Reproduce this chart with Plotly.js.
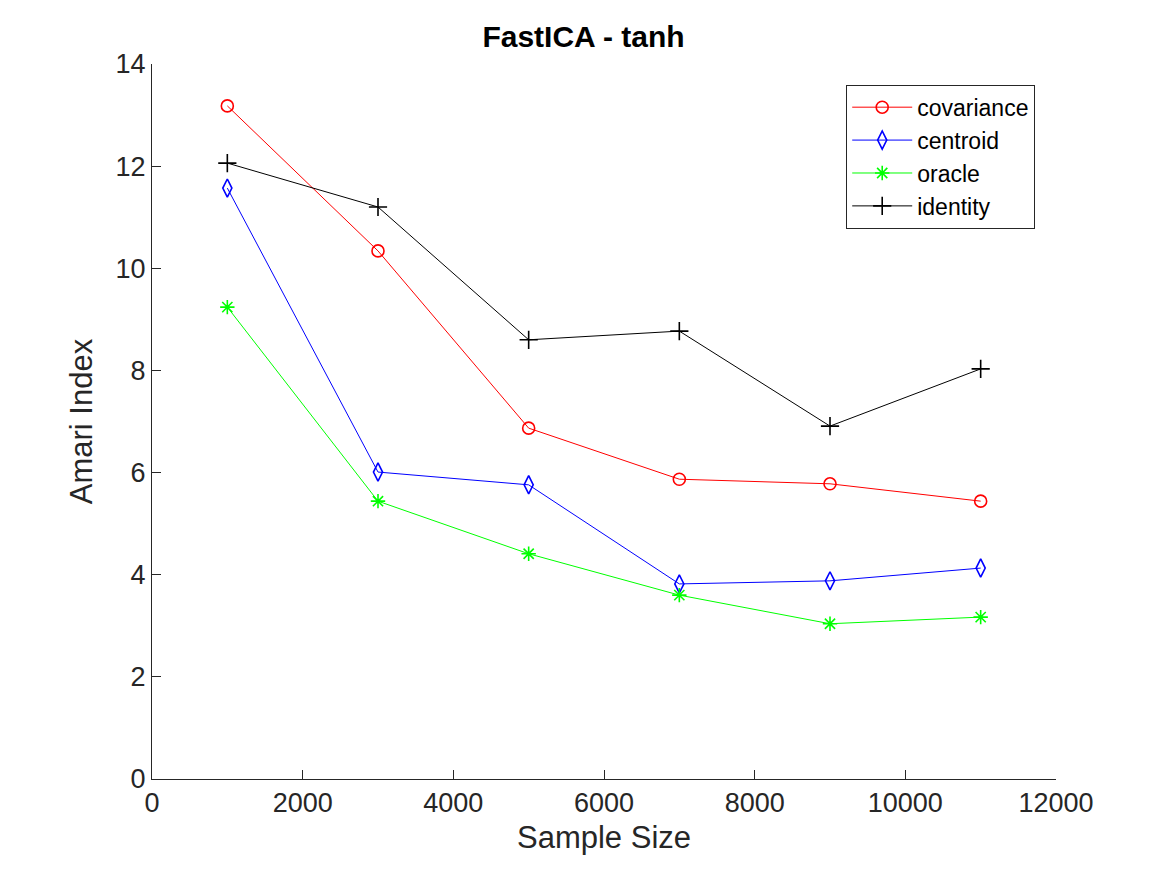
<!DOCTYPE html>
<html>
<head>
<meta charset="utf-8">
<script src="https://cdn.plot.ly/plotly-3.0.1.min.js"></script>
<style>
  html, body { margin: 0; padding: 0; background: #ffffff; }
  #chart { width: 1167px; height: 875px; }
</style>
</head>
<body>
<div id="chart"></div>
<script>
// Sample sizes tested
const sampleSizes = [1000, 3000, 5000, 7000, 9000, 11000];

// Amari index per whitening method
const covariance = [13.18, 10.34, 6.87, 5.87, 5.78, 5.44];
const centroid   = [11.57, 6.01, 5.76, 3.82, 3.88, 4.13];
const oracle     = [9.24, 5.44, 4.41, 3.60, 3.04, 3.17];
const identity   = [12.06, 11.20, 8.60, 8.77, 6.91, 8.03];

const xTicks = [0, 2000, 4000, 6000, 8000, 10000, 12000];
const yTicks = [0, 2, 4, 6, 8, 10, 12, 14];

const axisColor = '#262626';
const fontFamily = 'Liberation Sans, Arial, sans-serif';

function series(name, y, color, symbol, size) {
  return {
    x: sampleSizes, y: y, name: name, type: 'scatter', mode: 'lines+markers',
    line: { color: color, width: 1 },
    marker: { symbol: symbol, size: size, color: color, line: { color: color, width: 1.6 } }
  };
}

const data = [
  series('covariance', covariance, '#ff0000', 'circle-open', 12),
  series('centroid', centroid, '#0000ff', 'diamond-tall-open', 13),
  series('oracle', oracle, '#00ff00', 'asterisk-open', 12),
  series('identity', identity, '#000000', 'cross-thin-open', 13)
];

const layout = {
  width: 1167, height: 875,
  paper_bgcolor: '#ffffff', plot_bgcolor: '#ffffff',
  margin: { l: 152, r: 111, t: 64, b: 96 },
  font: { family: fontFamily, color: axisColor, size: 27 },
  title: {
    text: '<b>FastICA - tanh</b>',
    font: { family: fontFamily, size: 30, color: '#000000' },
    x: 0.5, xanchor: 'center', y: 0.958, yanchor: 'middle'
  },
  xaxis: {
    range: [0, 12000], tickvals: xTicks, ticktext: xTicks.map(String),
    showgrid: false, zeroline: false, showline: true, linecolor: axisColor, linewidth: 1,
    ticks: 'inside', ticklen: 9, tickcolor: axisColor, tickwidth: 1,
    tickfont: { size: 27, color: axisColor },
    title: { text: 'Sample Size', font: { size: 31, color: axisColor }, standoff: 8 }
  },
  yaxis: {
    range: [0, 14], tickvals: yTicks, ticktext: yTicks.map(String),
    showgrid: false, zeroline: false, showline: true, linecolor: axisColor, linewidth: 1,
    ticks: 'inside', ticklen: 9, tickcolor: axisColor, tickwidth: 1,
    tickfont: { size: 27, color: axisColor },
    title: { text: 'Amari Index', font: { size: 31, color: axisColor }, standoff: 13 }
  },
  showlegend: true,
  legend: {
    x: 0.977, xanchor: 'right', y: 0.971, yanchor: 'top',
    bgcolor: '#ffffff', bordercolor: '#262626', borderwidth: 1,
    font: { size: 23, color: '#000000' },
    itemwidth: 60
  }
};

Plotly.newPlot('chart', data, layout, { displayModeBar: false, staticPlot: true });
</script>
</body>
</html>
